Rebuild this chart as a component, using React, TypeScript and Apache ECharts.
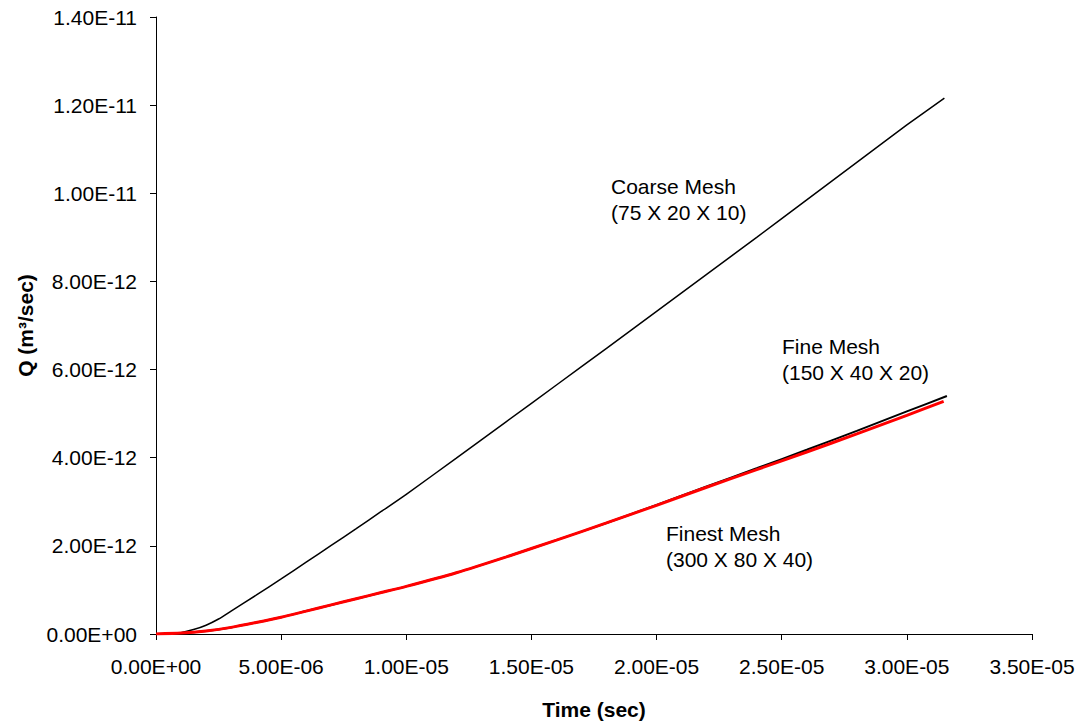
import React, { useEffect, useRef } from "react";
import * as echarts from "echarts";

// time in microseconds (×1e-6 s), Q in ×1e-12 m3/s
const coarseT = [0, 0.5, 1.0, 1.5, 2, 2.5, 3, 4, 5, 6, 7, 8, 9, 10, 12, 14, 16, 18, 20, 22, 24, 26, 28, 30, 31.5];
const coarseQ = [0, 0, 0.03, 0.10, 0.20, 0.34, 0.52, 0.88, 1.25, 1.63, 2.01, 2.39, 2.78, 3.17, 3.99, 4.82, 5.65, 6.48, 7.32, 8.16, 9.00, 9.85, 10.70, 11.55, 12.16];

const fineT = [0, 1, 2, 3, 4, 5, 6, 7, 8, 9, 10, 12, 14, 16, 18, 20, 22, 24, 26, 28, 30, 31.6];
const fineQ = [0, 0.02, 0.07, 0.15, 0.26, 0.38, 0.52, 0.66, 0.80, 0.94, 1.08, 1.39, 1.75, 2.13, 2.52, 2.93, 3.35, 3.76, 4.18, 4.61, 5.05, 5.40];

const finestT = [0, 1, 2, 3, 4, 5, 6, 7, 8, 9, 10, 12, 14, 16, 18, 20, 22, 24, 26, 28, 30, 31.47];
const finestQ = [0, 0.02, 0.07, 0.15, 0.26, 0.38, 0.52, 0.66, 0.80, 0.94, 1.08, 1.39, 1.75, 2.13, 2.52, 2.92, 3.33, 3.73, 4.13, 4.54, 4.96, 5.28];

const seriesNames = ["Coarse Mesh (75 X 20 X 10)", "Fine Mesh (150 X 40 X 20)", "Finest Mesh (300 X 80 X 40)"];

const FONT = "'Liberation Sans', Arial, Helvetica, sans-serif";

function fmtE(v: number): string {
  if (v === 0) return "0.00E+00";
  const s = v.toExponential(2);
  const [m, e] = s.split("e");
  const sign = e[0] === "-" ? "-" : "+";
  const digits = e.replace(/^[+-]/, "").padStart(2, "0");
  return `${m}E${sign}${digits}`;
}

function pairs(t: number[], q: number[]) {
  return t.map((x, i) => [x * 1e-6, q[i] * 1e-12]);
}

export default function App() {
  const ref = useRef<HTMLDivElement>(null);
  useEffect(() => {
    if (!ref.current) return;
    const chart = echarts.init(ref.current, null, { renderer: "svg" });
    chart.setOption({
      animation: false,
      backgroundColor: "#ffffff",
      grid: { left: 156, right: 53, top: 17, bottom: 88 },
      xAxis: {
        type: "value",
        min: 0,
        max: 3.5e-5,
        interval: 5e-6,
        name: "Time (sec)",
        nameLocation: "middle",
        nameGap: 65,
        nameTextStyle: { fontFamily: FONT, fontSize: 21, fontWeight: "bold", color: "#000" },
        axisLine: { show: true, lineStyle: { color: "#000", width: 1 } },
        axisTick: { show: true, inside: false, length: 6, lineStyle: { color: "#000" } },
        axisLabel: { fontFamily: FONT, fontSize: 21, color: "#000", margin: 22, formatter: (v: number) => fmtE(v) },
        splitLine: { show: false },
      },
      yAxis: {
        type: "value",
        min: 0,
        max: 1.4e-11,
        interval: 2e-12,
        name: "Q (m³/sec)",
        nameLocation: "middle",
        nameGap: 119,
        nameTextStyle: { fontFamily: FONT, fontSize: 21, fontWeight: "bold", color: "#000" },
        axisLine: { show: true, lineStyle: { color: "#000", width: 1 } },
        axisTick: { show: true, inside: false, length: 6, lineStyle: { color: "#000" } },
        axisLabel: { fontFamily: FONT, fontSize: 21, color: "#000", margin: 19, formatter: (v: number) => fmtE(v) },
        splitLine: { show: false },
      },
      series: [
        {
          name: seriesNames[0],
          type: "line",
          data: pairs(coarseT, coarseQ),
          showSymbol: false,
          smooth: 0.2,
          lineStyle: { color: "#000", width: 1.5 },
        },
        {
          name: seriesNames[1],
          type: "line",
          data: pairs(fineT, fineQ),
          showSymbol: false,
          smooth: 0.2,
          lineStyle: { color: "#000", width: 2 },
        },
        {
          name: seriesNames[2],
          type: "line",
          data: pairs(finestT, finestQ),
          showSymbol: false,
          smooth: 0.2,
          lineStyle: { color: "#ff0000", width: 3 },
        },
      ],
      graphic: [
        {
          type: "text",
          left: 611,
          top: 173,
          style: { text: "Coarse Mesh\n(75 X 20 X 10)", font: `21px ${FONT}`, fill: "#000", lineHeight: 26 },
        },
        {
          type: "text",
          left: 782,
          top: 333,
          style: { text: "Fine Mesh\n(150 X 40 X 20)", font: `21px ${FONT}`, fill: "#000", lineHeight: 26 },
        },
        {
          type: "text",
          left: 666,
          top: 520,
          style: { text: "Finest Mesh\n(300 X 80 X 40)", font: `21px ${FONT}`, fill: "#000", lineHeight: 26 },
        },
      ],
    });
    return () => chart.dispose();
  }, []);
  return (
    <div
      ref={ref}
      style={{ position: "fixed", left: 0, top: 0, width: 1085, height: 725, background: "#fff" }}
    />
  );
}
